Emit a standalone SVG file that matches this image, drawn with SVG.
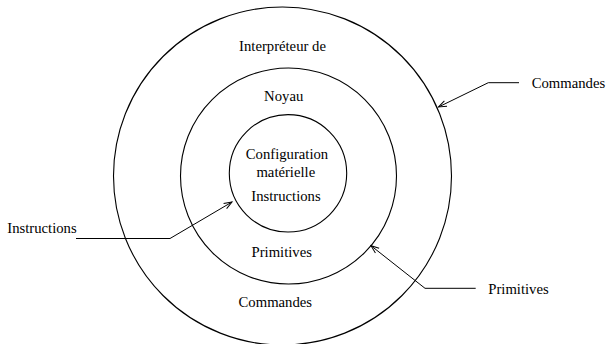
<svg xmlns="http://www.w3.org/2000/svg" width="608" height="344" viewBox="0 0 608 344">
  <style>
    .ring { fill: none; stroke: #000; stroke-width: 1.1; }
    .lead { fill: none; stroke: #000; stroke-width: 1; }
    text { font-family: "Liberation Serif", "Times New Roman", serif; font-size: 14.7px; fill: #000; }
    .c { text-anchor: middle; }
  </style>
  <defs>
    <marker id="arrow" viewBox="-9 -4 10 8" markerWidth="10" markerHeight="8" refX="0" refY="0" orient="auto" markerUnits="userSpaceOnUse" overflow="visible">
      <path d="M-8,-3 L0,0 L-8,3" fill="none" stroke="#000" stroke-width="1"/>
    </marker>
  </defs>
  <rect width="608" height="344" fill="#fff"/>

  <!-- outer layer: command interpreter -->
  <g id="interpreteur">
    <circle class="ring" cx="282.5" cy="176" r="169"/>
    <text class="c" x="282.5" y="50.7">Interpréteur de</text>
    <text class="c" x="275.3" y="306.7">Commandes</text>
  </g>

  <!-- middle layer: kernel -->
  <g id="noyau">
    <circle class="ring" cx="288.5" cy="176" r="108"/>
    <text class="c" x="283.7" y="101">Noyau</text>
    <text class="c" x="281.7" y="256.7">Primitives</text>
  </g>

  <!-- inner layer: hardware -->
  <g id="materiel">
    <circle class="ring" cx="288" cy="173.3" r="58.7"/>
    <text class="c" x="287" y="158.8">Configuration</text>
    <text class="c" x="285.8" y="176.7">matérielle</text>
    <text class="c" x="286" y="200.7">Instructions</text>
  </g>

  <!-- side labels -->
  <g id="label-instructions">
    <text x="7.3" y="232.7">Instructions</text>
  </g>
  <g id="label-primitives">
    <text x="488.3" y="294.3">Primitives</text>
  </g>
  <g id="label-commandes">
    <text x="531.7" y="88.3">Commandes</text>
  </g>

  <!-- leader lines -->
  <g id="connectors">
    <polyline class="lead" points="76,238.5 170,238.5 232,202" marker-end="url(#arrow)"/>
    <polyline class="lead" points="475.7,288.3 425,288.3 371,245.7" marker-end="url(#arrow)"/>
    <polyline class="lead" points="519,82.7 488.3,82.7 438.5,107" marker-end="url(#arrow)"/>
  </g>
</svg>
